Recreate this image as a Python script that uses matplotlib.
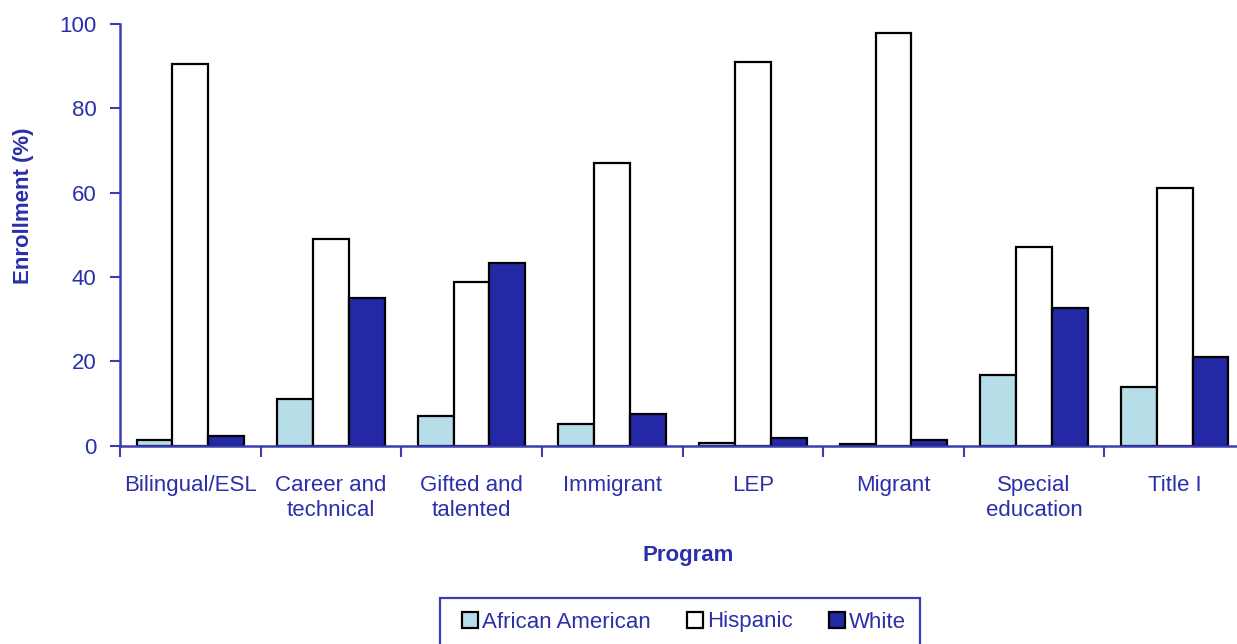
import matplotlib.pyplot as plt
from matplotlib.patches import Rectangle
import numpy as np

# Data
programs = ['Bilingual/ESL', 'Career and\ntechnical', 'Gifted and\ntalented', 'Immigrant',
            'LEP', 'Migrant', 'Special\neducation', 'Title I']
african_american = [1.2, 11.0, 7.0, 5.1, 0.7, 0.3, 16.7, 13.8]
hispanic = [90.6, 49.0, 38.9, 67.0, 91.1, 97.9, 47.1, 61.1]
white = [2.2, 35.1, 43.3, 7.5, 1.7, 1.2, 32.6, 21.0]

series = [('African American', african_american, '#B7DDE8'),
          ('Hispanic', hispanic, '#FFFFFF'),
          ('White', white, '#2328A5')]

txt = '#2B2FA8'
axis_col = '#3A3DB5'
fs = 16
plt.rcParams['font.family'] = ['Liberation Sans', 'DejaVu Sans']

W, H = 1237, 644
fig = plt.figure(figsize=(W / 100, H / 100), dpi=100)
ax = fig.add_axes([120 / W, 1 - 445.5 / H, 1125 / W, 421.5 / H])

x = np.arange(len(programs))
w = 0.255
for i, (name, vals, col) in enumerate(series):
    ax.bar(x + (i - 1) * w, vals, w, color=col, edgecolor='black', linewidth=1.6,
           label=name, zorder=2)

ax.set_xlim(-0.5, len(programs) - 0.5)
ax.set_ylim(0, 100)
ax.set_yticks([0, 20, 40, 60, 80, 100])
ax.set_xticks(x)
ax.set_xticklabels(programs, fontsize=fs, color=txt, va='top', linespacing=1.25)
ax.set_xticks(np.arange(len(programs) + 1) - 0.5, minor=True)
ax.tick_params(axis='x', which='major', length=0, pad=21)
ax.tick_params(axis='x', which='minor', length=8, width=1.5, color=axis_col, direction='out')
ax.tick_params(axis='y', length=7, width=1.5, color=axis_col, labelsize=fs,
               labelcolor=txt, pad=10)

for s in ['top', 'right']:
    ax.spines[s].set_visible(False)
for s in ['left', 'bottom']:
    ax.spines[s].set_color(axis_col)
    ax.spines[s].set_linewidth(1.8)

ax.set_ylabel('Enrollment (%)', fontsize=fs, fontweight='bold', color=txt)
ax.yaxis.set_label_coords((24 - 120) / 1125, (445.5 - 206) / 421.5)
ax.yaxis.label.set_va('center')
ax.set_xlabel('Program', fontsize=fs, fontweight='bold', color=txt)
ax.xaxis.set_label_coords((688 - 120) / 1125, (445.5 - 555) / 421.5)
ax.xaxis.label.set_va('center')

# legend box
fig.add_artist(Rectangle((440 / W, -0.05), 480 / W, 0.05 + 1 - 598 / H,
                         transform=fig.transFigure, fill=False,
                         edgecolor=axis_col, linewidth=1.6))
leg = fig.legend(loc='center', bbox_to_anchor=(684 / W, 1 - 622 / H),
                 ncol=3, frameon=False, fontsize=fs, handlelength=0.72,
                 handleheight=0.72, handletextpad=0.2, columnspacing=1.6)
for t in leg.get_texts():
    t.set_color(txt)

fig.savefig('out.png', dpi=100)
plt.close(fig)
